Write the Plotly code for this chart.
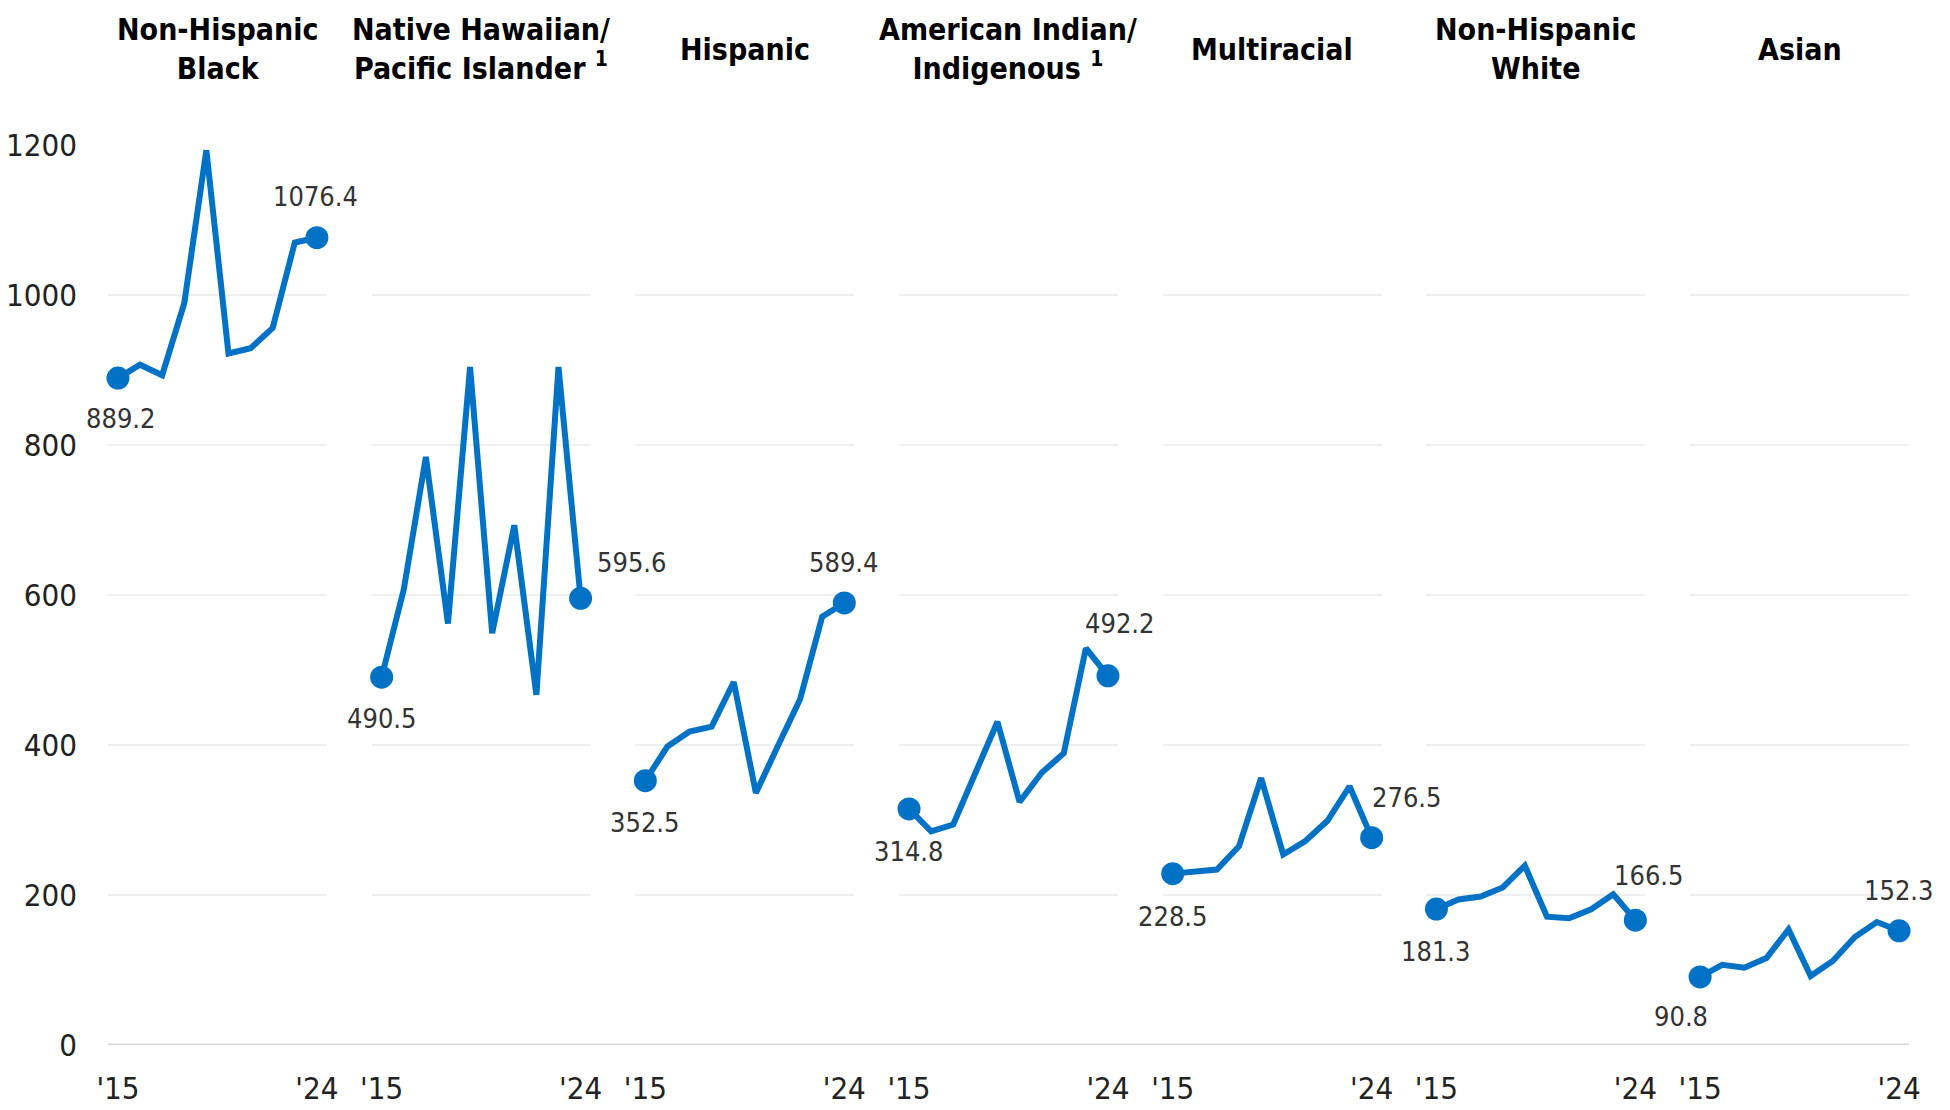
import plotly.graph_objects as go
from plotly.subplots import make_subplots

years = [2015, 2016, 2017, 2018, 2019, 2020, 2021, 2022, 2023, 2024]
groups = ["Non-Hispanic<br>Black", "Native Hawaiian/<br>Pacific Islander <sup>1</sup>", "Hispanic",
          "American Indian/<br>Indigenous <sup>1</sup>", "Multiracial", "Non-Hispanic<br>White", "Asian"]

nh_black = [889.2, 907, 893, 989, 1193, 922, 929, 956, 1070, 1076.4]
nhpi = [490.5, 607, 784, 562, 904, 549, 693, 467, 904, 595.6]
hispanic = [352.5, 398, 418, 424.5, 484, 336, 399, 461, 571, 589.4]
aian = [314.8, 285, 294, 362, 431, 324, 363, 389, 529, 492.2]
multiracial = [228.5, 231, 234, 265, 356, 254, 272, 299, 345, 276.5]
nh_white = [181.3, 194, 198, 210, 239, 171, 169, 181, 201, 166.5]
asian = [90.8, 107, 103, 116, 154, 92, 112, 144, 164, 152.3]

series = [nh_black, nhpi, hispanic, aian, multiracial, nh_white, asian]
first_labels = ["889.2", "490.5", "352.5", "314.8", "228.5", "181.3", "90.8"]
last_labels = ["1076.4", "595.6", "589.4", "492.2", "276.5", "166.5", "152.3"]

y_ticks = [0, 200, 400, 600, 800, 1000, 1200]
x_tickvals = [2015, 2024]
x_ticktext = ["'15", "'24"]

# label offsets in pixels (layout only)
first_shift = [(3, -40), (0, -41), (0, -42), (0, -43), (0, -43), (0, -42), (-19, -40)]
last_shift = [(-1, 41), (51, 36), (0, 40), (12, 52), (35, 40), (14, 45), (0, 40)]

BLUE = "#0072C6"
FONT = "DejaVu Sans Condensed, Liberation Sans Narrow, Liberation Sans, sans-serif"

fig = make_subplots(rows=1, cols=7, shared_yaxes=True, horizontal_spacing=0.0249)

for i, vals in enumerate(series):
    c = i + 1
    fig.add_trace(go.Scatter(x=years, y=vals, mode="lines", line=dict(color=BLUE, width=6),
                             cliponaxis=False, showlegend=False, hoverinfo="skip"), row=1, col=c)
    fig.add_trace(go.Scatter(x=[years[0], years[-1]], y=[vals[0], vals[-1]], mode="markers",
                             marker=dict(color=BLUE, size=23), cliponaxis=False,
                             showlegend=False, hoverinfo="skip"), row=1, col=c)
    xref = "x" if c == 1 else f"x{c}"
    yref = "y" if c == 1 else f"y{c}"
    fig.add_annotation(x=years[0], y=vals[0], xref=xref, yref=yref, text=first_labels[i],
                       showarrow=False, xshift=first_shift[i][0], yshift=first_shift[i][1],
                       font=dict(family=FONT, size=27, color="#333333"))
    fig.add_annotation(x=years[-1], y=vals[-1], xref=xref, yref=yref, text=last_labels[i],
                       showarrow=False, xshift=last_shift[i][0], yshift=last_shift[i][1],
                       font=dict(family=FONT, size=27, color="#333333"))
    fig.add_annotation(x=(years[0] + years[-1]) / 2, y=1, xref=xref, yref="paper",
                       text="<b>" + groups[i] + "</b>", showarrow=False, yanchor="middle",
                       yshift=96, font=dict(family=FONT, size=30, color="#000000"))
    fig.update_xaxes(row=1, col=c, range=[2014.55, 2024.45], tickvals=x_tickvals,
                     ticktext=x_ticktext, showgrid=False, zeroline=False, showline=False,
                     ticks="", ticklabelstandoff=22, automargin=False,
                     tickfont=dict(family=FONT, size=31, color="#222222"))
    fig.update_yaxes(row=1, col=c, range=[0, 1200], tickvals=y_ticks, showgrid=True,
                     gridcolor="#efefef", gridwidth=2, zeroline=False, showline=False,
                     ticks="", ticklabelstandoff=30, automargin=False,
                     tickfont=dict(family=FONT, size=31, color="#222222"))

fig.add_shape(type="line", xref="paper", yref="y", x0=0, x1=1, y0=0, y1=0,
              line=dict(color="#d6d6d6", width=3), layer="below")

fig.update_layout(width=1950, height=1110, margin=dict(l=108, r=41, t=145, b=65),
                  plot_bgcolor="white", paper_bgcolor="white",
                  font=dict(family=FONT))

fig.write_html("out.html")
